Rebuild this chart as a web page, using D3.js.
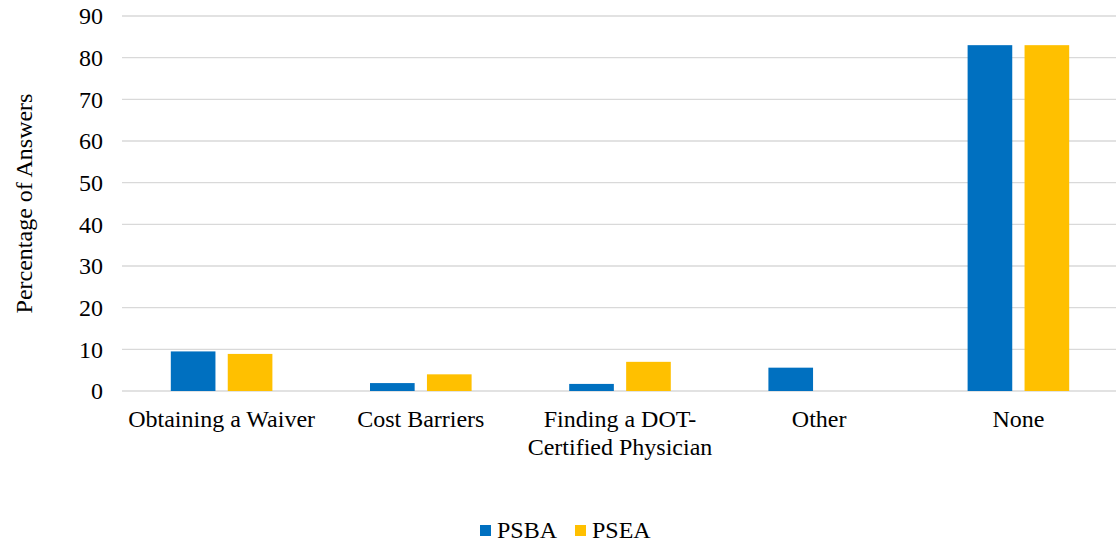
<!DOCTYPE html>
<html>
<head>
<meta charset="utf-8">
<script src="https://cdn.jsdelivr.net/npm/d3@7"></script>
<style>
  body { margin: 0; background: #fff; }
</style>
</head>
<body>
<div id="chartContainer"></div>
<script>
const categories = ['Obtaining a Waiver', 'Cost Barriers', 'Finding a DOT-Certified Physician', 'Other', 'None'];
const seriesNames = ['PSBA', 'PSEA'];
const psbaValues = [9.5, 1.9, 1.7, 5.6, 83.0];
const pseaValues = [8.9, 4.0, 7.0, 0, 83.0];
const yTicks = [0, 10, 20, 30, 40, 50, 60, 70, 80, 90];

const colors = { PSBA: '#0070C0', PSEA: '#FFC000' };
const fontFamily = '"Liberation Serif", "Times New Roman", serif';
const fontSize = '24px';

const svgWidth = 1116;
const svgHeight = 546;
const margin = { top: 16, right: -2, bottom: 155, left: 122 };
const chartWidth = svgWidth - margin.left - margin.right;
const chartHeight = svgHeight - margin.top - margin.bottom;

const data = categories.map((c, i) => ({ label: c, PSBA: psbaValues[i], PSEA: pseaValues[i] }));

const svg = d3.select('#chartContainer')
    .append('svg')
    .attr('width', svgWidth)
    .attr('height', svgHeight);

const chart = svg.append('g')
    .attr('transform', `translate(${margin.left}, ${margin.top})`);

const x0 = d3.scaleBand()
    .domain(categories)
    .range([0, chartWidth])
    .paddingInner(0.49)
    .paddingOuter(0.245);

const x1 = d3.scaleBand()
    .domain(seriesNames)
    .range([0, x0.bandwidth()])
    .paddingInner(0.216);

const yScale = d3.scaleLinear()
    .domain([0, 90])
    .range([chartHeight, 0]);

// gridlines
chart.append('g')
    .attr('class', 'grid')
    .selectAll('line')
    .data(yTicks)
    .join('line')
    .attr('x1', 0)
    .attr('x2', chartWidth)
    .attr('y1', d => yScale(d))
    .attr('y2', d => yScale(d))
    .attr('stroke', '#d9d9d9')
    .attr('stroke-width', 1.3);

// y axis labels
const yAxis = d3.axisLeft(yScale)
    .tickValues(yTicks)
    .tickSize(0)
    .tickPadding(19);
chart.append('g')
    .attr('class', 'y-axis')
    .call(yAxis)
    .call(g => g.select('.domain').remove())
    .selectAll('text')
    .style('font-family', fontFamily)
    .style('font-size', fontSize)
    .attr('fill', '#000');

// bars
const groups = chart.selectAll('.cat')
    .data(data)
    .join('g')
    .attr('class', 'cat')
    .attr('transform', d => `translate(${x0(d.label)}, 0)`);

groups.selectAll('rect')
    .data(d => seriesNames.map(s => ({ key: s, value: d[s] })).filter(v => v.value > 0))
    .join('rect')
    .attr('x', d => x1(d.key))
    .attr('y', d => yScale(d.value))
    .attr('width', x1.bandwidth())
    .attr('height', d => yScale(0) - yScale(d.value))
    .attr('fill', d => colors[d.key]);

// x axis labels (wrapped like the original)
const xLines = {
    'Finding a DOT-Certified Physician': ['Finding a DOT-', 'Certified Physician']
};
const xLabels = chart.append('g')
    .attr('class', 'x-axis')
    .attr('transform', `translate(0, ${chartHeight})`);
categories.forEach(c => {
    const lines = xLines[c] || [c];
    const cx = x0(c) + x0.bandwidth() / 2;
    const t = xLabels.append('text')
        .attr('x', cx)
        .attr('y', 36)
        .attr('text-anchor', 'middle')
        .style('font-family', fontFamily)
        .style('font-size', fontSize)
        .attr('fill', '#000');
    lines.forEach((l, i) => {
        t.append('tspan')
            .attr('x', cx)
            .attr('dy', i === 0 ? 0 : 28.3)
            .text(l);
    });
});

// y axis title
svg.append('text')
    .attr('transform', `translate(32, ${margin.top + chartHeight / 2}) rotate(-90)`)
    .attr('text-anchor', 'middle')
    .style('font-family', fontFamily)
    .style('font-size', fontSize)
    .attr('fill', '#000')
    .text('Percentage of Answers');

// legend
const legend = svg.append('g')
    .attr('transform', 'translate(480, 525)');
const legendOffsets = [0, 95];
seriesNames.forEach((s, i) => {
    const item = legend.append('g')
        .attr('transform', `translate(${legendOffsets[i]}, 0)`);
    item.append('rect')
        .attr('x', 0)
        .attr('y', 0)
        .attr('width', 11)
        .attr('height', 11)
        .attr('fill', colors[s]);
    item.append('text')
        .attr('x', 17)
        .attr('y', 13)
        .style('font-family', fontFamily)
        .style('font-size', fontSize)
        .attr('fill', '#000')
        .text(s);
});
</script>
</body>
</html>
